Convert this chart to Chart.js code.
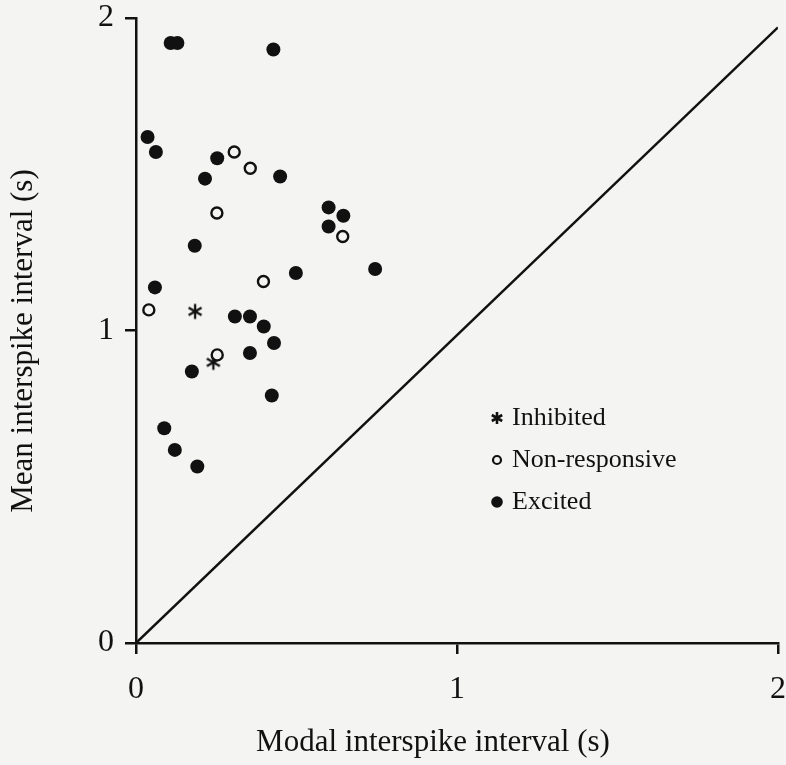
<!DOCTYPE html>
<html>
<head>
<meta charset="utf-8">
<title>Interspike intervals</title>
<script src="https://cdn.jsdelivr.net/npm/chart.js@4/dist/chart.umd.min.js"></script>
<style>
  html, body { margin: 0; padding: 0; background: #f4f4f3; }
  #wrap { width: 786px; height: 765px; position: relative; }
</style>
</head>
<body>
<div id="wrap"><canvas id="isiChart"></canvas></div>
<script>
// --- data (seconds) ---
const excitedModal = [0.108, 0.129, 0.428, 0.036, 0.062, 0.253, 0.449, 0.215, 0.600, 0.646,
  0.600, 0.183, 0.498, 0.745, 0.059, 0.308, 0.355, 0.398, 0.430, 0.355,
  0.174, 0.423, 0.088, 0.121, 0.191];
const excitedMean = [1.920, 1.920, 1.899, 1.619, 1.571, 1.551, 1.493, 1.486, 1.394, 1.367,
  1.333, 1.271, 1.184, 1.197, 1.138, 1.045, 1.045, 1.013, 0.960, 0.928,
  0.869, 0.792, 0.687, 0.618, 0.565];
const nonRespModal = [0.306, 0.356, 0.252, 0.644, 0.397, 0.040, 0.253];
const nonRespMean = [1.571, 1.519, 1.376, 1.301, 1.157, 1.066, 0.922];
const inhibitedModal = [0.184, 0.241];
const inhibitedMean = [1.061, 0.898];
const diagX = [0, 2];
const diagY = [0, 1.97];
const xTicks = [0, 1, 2];
const yTicks = [0, 1, 2];
const legendLabels = ["Inhibited", "Non-responsive", "Excited"];

const INK = "#111";
const SERIF = "'Liberation Serif', 'Times New Roman', serif";

function toPoints(xs, ys) {
  return xs.map((x, i) => ({ x: x, y: ys[i] }));
}

// six-armed asterisk used for the inhibited cells
function drawAsterisk(ctx, cx, cy, r, lw) {
  ctx.save();
  ctx.strokeStyle = INK;
  ctx.lineWidth = lw;
  ctx.beginPath();
  for (let k = 0; k < 3; k++) {
    const a = Math.PI / 2 + k * Math.PI / 3;
    ctx.moveTo(cx + r * Math.cos(a), cy + r * Math.sin(a));
    ctx.lineTo(cx - r * Math.cos(a), cy - r * Math.sin(a));
  }
  ctx.stroke();
  ctx.restore();
}

const starImg = document.createElement("canvas");
starImg.width = 20;
starImg.height = 20;
drawAsterisk(starImg.getContext("2d"), 10, 10, 7.5, 2.3);

// axis titles and the in-plot key
const decorPlugin = {
  id: "decor",
  afterDraw(chart) {
    const ctx = chart.ctx;
    ctx.save();
    ctx.fillStyle = INK;
    ctx.font = "31px " + SERIF;
    ctx.textAlign = "center";
    ctx.textBaseline = "middle";
    ctx.fillText("Modal interspike interval (s)", 433, 743);
    ctx.translate(24, 341);
    ctx.rotate(-Math.PI / 2);
    ctx.fillText("Mean interspike interval (s)", 0, 0);
    ctx.restore();

    const kx = 497, rows = [418, 460, 502];
    drawAsterisk(ctx, kx, rows[0], 6, 2.6);
    ctx.save();
    ctx.strokeStyle = INK;
    ctx.fillStyle = INK;
    ctx.lineWidth = 2.2;
    ctx.beginPath();
    ctx.arc(kx, rows[1], 4, 0, Math.PI * 2);
    ctx.stroke();
    ctx.beginPath();
    ctx.arc(kx, rows[2], 5.8, 0, Math.PI * 2);
    ctx.fill();
    ctx.font = "26px " + SERIF;
    ctx.textAlign = "left";
    ctx.textBaseline = "middle";
    legendLabels.forEach((t, i) => ctx.fillText(t, 512, rows[i]));
    ctx.restore();
  },
};

const axisStyle = {
  grid: { drawOnChartArea: false, drawTicks: true, tickLength: 11, color: INK, lineWidth: 2.5 },
  border: { color: INK, width: 2.5 },
};

new Chart(document.getElementById("isiChart"), {
  type: "scatter",
  data: {
    datasets: [
      {
        label: "diagonal",
        data: toPoints(diagX, diagY),
        showLine: true,
        borderColor: INK,
        borderWidth: 2.5,
        pointRadius: 0,
      },
      {
        label: legendLabels[2],
        data: toPoints(excitedModal, excitedMean),
        pointStyle: "circle",
        pointRadius: 7,
        backgroundColor: INK,
        borderColor: INK,
        borderWidth: 0,
      },
      {
        label: legendLabels[1],
        data: toPoints(nonRespModal, nonRespMean),
        pointStyle: "circle",
        pointRadius: 5.5,
        backgroundColor: "#f4f4f3",
        borderColor: INK,
        borderWidth: 2.4,
      },
      {
        label: legendLabels[0],
        data: toPoints(inhibitedModal, inhibitedMean),
        pointStyle: starImg,
      },
    ],
  },
  options: {
    responsive: true,
    maintainAspectRatio: false,
    animation: false,
    layout: { padding: { top: 18, right: 8, left: 0, bottom: 0 } },
    plugins: { legend: { display: false }, tooltip: { enabled: false } },
    scales: {
      x: {
        type: "linear",
        min: 0,
        max: 2,
        afterBuildTicks: (s) => { s.ticks = xTicks.map((v) => ({ value: v })); },
        ticks: { color: INK, font: { family: SERIF, size: 32 }, padding: 16, maxRotation: 0 },
        afterFit: (s) => { s.height = 122; s.paddingLeft = 0; s.paddingRight = 0; },
        ...axisStyle,
      },
      y: {
        type: "linear",
        min: 0,
        max: 2,
        afterBuildTicks: (s) => { s.ticks = yTicks.map((v) => ({ value: v })); },
        ticks: { color: INK, font: { family: SERIF, size: 32 }, padding: 11 },
        afterFit: (s) => { s.width = 136; s.paddingTop = 0; s.paddingBottom = 0; },
        ...axisStyle,
      },
    },
  },
  plugins: [decorPlugin],
});
</script>
</body>
</html>
